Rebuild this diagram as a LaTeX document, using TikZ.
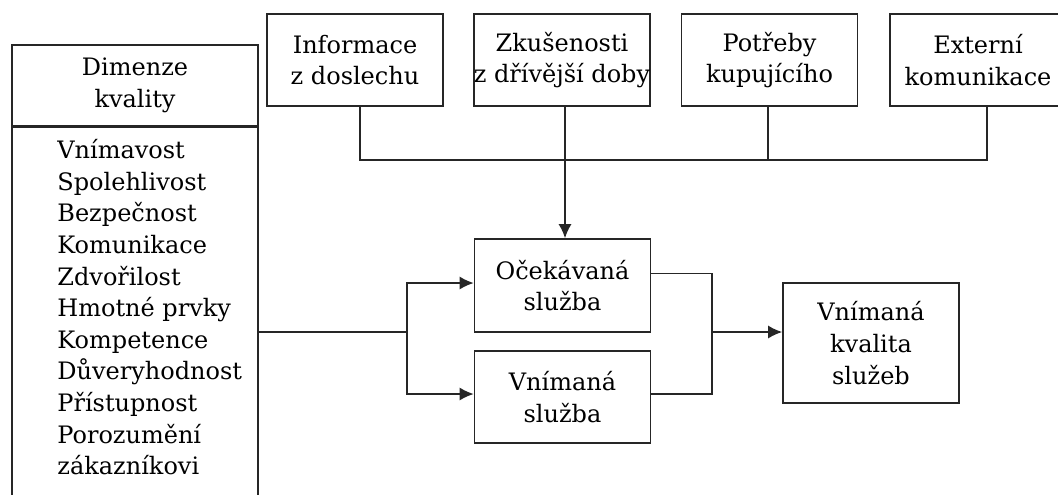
\documentclass[tikz,border=0pt]{standalone}
\usepackage{fontspec}
\setmainfont{DejaVu Serif}
\usepackage{tikz}
\usetikzlibrary{arrows.meta,calc}
\tikzstyle{every node}=[font=\fontsize{12}{15.8}\selectfont]
\tikzstyle{box}=[draw=black!85,line width=0.8pt,rectangle,align=center,inner sep=0pt,minimum width=88pt,minimum height=46pt]
\tikzstyle{wire}=[draw=black!85,line width=0.8pt]
\tikzstyle{arr}=[wire,-{Latex[length=7pt,width=6.5pt]}]

\begin{document}
\begin{tikzpicture}[x=0.5pt,y=-0.5pt]
    \useasboundingbox (0,0) rectangle (1058,494);
    % vstupy nahore
    \node[box] (info) at (355,60) {Informace\\z doslechu};
    \node[box] (zkus) at (562,60) {Zkušenosti\\z dřívější doby};
    \node[box] (potr) at (769.5,60) {Potřeby\\kupujícího};
    \node[box] (ext) at (978,60) {Externí\\komunikace};
    % dimenze kvality
    \node[box,minimum width=123pt,minimum height=40.5pt] (dim) at (135,85.5) {Dimenze\\kvality};
    \node[box,anchor=north,minimum width=123pt,minimum height=200pt] (dimbox) at (dim.south) {};
    \node[anchor=north west,align=left,inner sep=0pt] (list) at (57,139) {Vnímavost\\Spolehlivost\\Bezpečnost\\Komunikace\\Zdvořilost\\Hmotné prvky\\Kompetence\\Důveryhodnost\\Přístupnost\\Porozumění\\zákazníkovi};
    % sluzby
    \node[box,minimum height=46.5pt] (ocek) at (562.5,285.5) {Očekávaná\\služba};
    \node[box] (vnim) at (562.5,397) {Vnímaná\\služba};
    \node[box,minimum height=60pt] (kval) at (871,343) {Vnímaná\\kvalita\\služeb};
    % spoje
    \coordinate (b1) at (360,160);
    \coordinate (b2) at (565,160);
    \coordinate (b3) at (768,160);
    \coordinate (b4) at (987,160);
    \coordinate (split) at (407,332);
    \coordinate (merge) at (712,332);
    \draw[wire] (b1 |- info.south) -- (b1) -- (b4) -- (b4 |- ext.south);
    \draw[wire] (b2 |- zkus.south) -- (b2);
    \draw[wire] (b3 |- potr.south) -- (b3);
    \draw[arr] (b2) -- (b2 |- ocek.north);
    \draw[wire] (dimbox.east |- split) -- (split);
    \draw[arr] (split) |- (ocek.west |- 0,283);
    \draw[arr] (split) |- (vnim.west |- 0,394);
    \draw[wire] ([yshift=6pt]ocek.east) -| (merge) |- (vnim.east |- 0,394);
    \draw[arr] (merge) -- (merge -| kval.west);
\end{tikzpicture}
\end{document}
